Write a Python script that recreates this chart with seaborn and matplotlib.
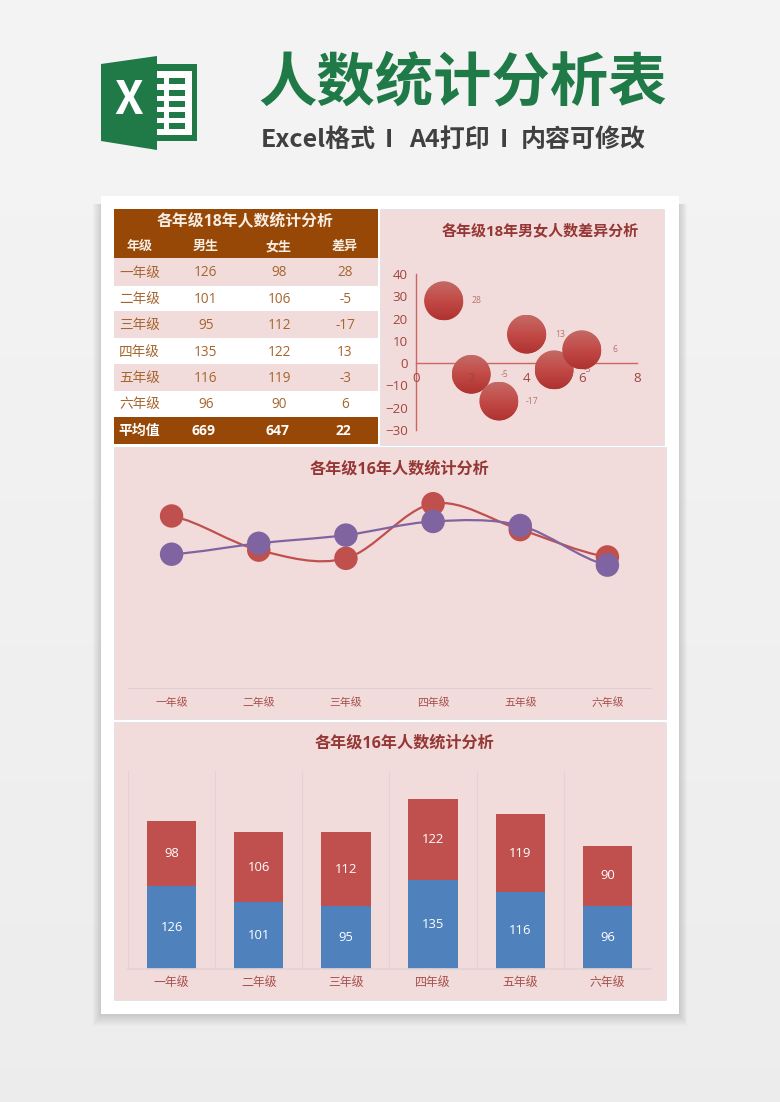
# Student headcount dashboard: table plus three charts on one page
import numpy as np
import pandas as pd
import matplotlib
matplotlib.use('Agg')
import matplotlib.pyplot as plt
import seaborn as sns
from matplotlib.patches import Rectangle, Polygon, Ellipse, PathPatch
from matplotlib.path import Path

# Data
grades = ['一年级', '二年级', '三年级', '四年级', '五年级', '六年级']
boys = [126, 101, 95, 135, 116, 96]
girls = [98, 106, 112, 122, 119, 90]
diffs = [28, -5, -17, 13, -3, 6]
bubble_x = [1, 2, 3, 4, 5, 6]
table_head = ['年级', '男生', '女生', '差异']
total_row = ['平均值', '669', '647', '22']

PINK = '#F2DCDB'
BROWN = '#974706'
RED = '#C0504D'
BLUE = '#4F81BD'
PURPLE = '#8064A2'
TITLE = '#953735'
TICK = '#A5504C'
GREEN = '#1F7A47'
W, H = 780, 1102

sns.set_theme(style='white')
plt.rcParams['font.family'] = ['Open Sans', 'Noto Sans CJK SC', 'DejaVu Sans']
CJK = ['Noto Sans CJK SC', 'DejaVu Sans']

fig = plt.figure(figsize=(W / 100, H / 100), dpi=100)


def axes_px(left, top, right, bottom):
    # axes from pixel edges, origin at the top left of the image
    ax = fig.add_axes([left / W, 1 - bottom / H, (right - left) / W, (bottom - top) / H])
    ax.patch.set_alpha(0)
    return ax


# Step 1: page background in pixel coordinates
bg = axes_px(0, 0, W, H)
bg.set_xlim(0, W)
bg.set_ylim(H, 0)
bg.axis('off')
shade = np.linspace(0.955, 0.925, 200).reshape(-1, 1)
bg.imshow(shade, cmap='gray', vmin=0, vmax=1, extent=(0, W, H, 0), aspect='auto', zorder=0)
# soft shadow, mostly below the white sheet
for grow in range(12, 0, -1):
    bg.add_patch(Rectangle((101 - grow * 0.7, 204), 578 + 1.4 * grow, 810 + grow,
                           color='black', alpha=0.012, lw=0, zorder=1))
bg.add_patch(Rectangle((101, 196), 578, 818, color='white', lw=0, zorder=2))

# panels
for x0, y0, x1, y1 in [(380, 209, 664, 445), (114, 447, 666, 719), (114, 722, 666, 1000)]:
    bg.add_patch(Rectangle((x0, y0), x1 - x0, y1 - y0, fc=PINK, ec='#DDDDE6', lw=0.5, zorder=3))

# Step 2: headline and Excel logo
bg.text(462.5, 83, '人数统计分析表', color=GREEN, fontsize=42, fontweight='bold',
        family=CJK, ha='center', va='center', zorder=5)
for x, part in [(318, 'Excel格式'), (389, 'I'), (449, 'A4打印'), (504, 'I'), (583.5, '内容可修改')]:
    bg.text(x, 140, part, color='#404040', fontsize=18, fontweight='bold',
            family=CJK, ha='center', va='center', zorder=5)

bg.add_patch(Rectangle((157, 64), 40, 77, color=GREEN, lw=0, zorder=4))
bg.add_patch(Rectangle((157, 71), 35, 64, color='white', lw=0, zorder=5))
for y in [78, 90, 101, 112, 123]:
    bg.add_patch(Rectangle((157, y), 6.5, 6, color=GREEN, lw=0, zorder=6))
    bg.add_patch(Rectangle((169, y), 16, 6, color=GREEN, lw=0, zorder=6))
bg.add_patch(Polygon([(101, 64), (157, 56), (157, 150), (101, 141)], color=GREEN, lw=0, zorder=7))
bg.text(129, 101, 'X', color='white', fontsize=33, fontweight='bold', family=CJK,
        ha='center', va='center', zorder=8)

# Step 3: table on the top left
rows = [(258, 286), (286, 311), (311, 338), (338, 364), (364, 391), (391, 417)]
text_y = [273, 299.3, 325.7, 352, 378.3, 404.7]
col_x = [139.5, 205.7, 279, 345]
bg.add_patch(Rectangle((114, 209), 264, 49, color=BROWN, lw=0, zorder=3))
bg.add_patch(Rectangle((114, 417), 264, 27, color=BROWN, lw=0, zorder=3))
bg.text(245.5, 221.5, '各年级18年人数统计分析', color='#F7EDE2', fontsize=11.4, fontweight='bold',
        ha='center', va='center', zorder=5)
for x, label in zip(col_x, table_head):
    bg.text(x, 246.5, label, color='#F7EDE2', fontsize=9.4, fontweight='bold', ha='center', va='center', zorder=5)
for i, (top, bottom) in enumerate(rows):
    if i % 2 == 0:
        bg.add_patch(Rectangle((114, top), 264, bottom - top, color=PINK, lw=0, zorder=3))
    cells = [grades[i], boys[i], girls[i], diffs[i]]
    for x, cell in zip(col_x, cells):
        bg.text(x, text_y[i], str(cell), color='#A5652E', fontsize=9.8, ha='center', va='center', zorder=5)
for x, cell in zip([139.5, 203, 277, 343], total_row):
    bg.text(x, 431, cell, color='white', fontsize=10, fontweight='bold', ha='center', va='center', zorder=5)

# Step 4: bubble chart of boys minus girls
bg.text(540.5, 231, '各年级18年男女人数差异分析', color=TITLE, fontsize=10.8, fontweight='bold',
        ha='center', va='center', zorder=5)
ax1 = axes_px(416, 274, 637, 430)
sns.scatterplot(x=bubble_x, y=diffs, s=730, color=RED, linewidth=0, zorder=2, ax=ax1)
ax1.set_xlim(0, 8)
ax1.set_ylim(-30, 40)
ramp = np.linspace(0, 1, 64).reshape(-1, 1)
cmap = matplotlib.colors.LinearSegmentedColormap.from_list('ball', ['#AE3230', '#C24A46', '#C46A66'])
bw = 39 / (221 / 8)
bh = 39 / (156 / 70)
for x, y in zip(bubble_x, diffs):
    # vertical shading on top of each bubble
    im = ax1.imshow(ramp, cmap=cmap, origin='lower', extent=(x - bw / 2, x + bw / 2, y - bh / 2, y + bh / 2),
                    aspect='auto', zorder=2.1)
    im.set_clip_path(Ellipse((x, y), bw, bh, transform=ax1.transData))
    ax1.annotate(str(y), (x, y), xytext=(24, 0), textcoords='offset points', color='#B5736F',
                 fontsize=6.2, ha='center', va='center', zorder=1.5)
ax1.set_xlim(0, 8)
ax1.set_ylim(-30, 40)
ax1.set_xticks([0, 2, 4, 6, 8])
ax1.set_yticks(range(-30, 50, 10))
sns.despine(ax=ax1)
ax1.spines['bottom'].set_position(('data', 0))
for side in ['left', 'bottom']:
    ax1.spines[side].set_color('#CC6662')
    ax1.spines[side].set_linewidth(1)
    ax1.spines[side].set_zorder(1)
ax1.set_axisbelow(False)
ax1.tick_params(axis='both', length=0, labelsize=9.6, labelcolor='#A0453F', pad=6)
ax1.tick_params(axis='x', pad=6.5)

# Step 5: smooth line chart
bg.text(399, 469.5, '各年级16年人数统计分析', color=TITLE, fontsize=11.6, fontweight='bold',
        ha='center', va='center', zorder=5)
ax2 = axes_px(128, 488, 651, 688)
line_df = pd.DataFrame({'grade': grades * 2, 'count': boys + girls,
                        'group': ['男生'] * 6 + ['女生'] * 6})


def smooth_path(values):
    # Bezier segments through the points, same look as an Excel smoothed line
    verts = [(0, values[0])]
    codes = [Path.MOVETO]
    last = len(values) - 1
    for i in range(last):
        before = values[max(i - 1, 0)]
        after = values[min(i + 2, last)]
        verts.append((i + 1 / 3, values[i] + (values[i + 1] - before) / 6))
        verts.append((i + 2 / 3, values[i + 1] - (after - values[i]) / 6))
        verts.append((i + 1, values[i + 1]))
        codes += [Path.CURVE4] * 3
    return Path(verts, codes)


sns.scatterplot(data=line_df, x='grade', y='count', hue='group', palette={'男生': RED, '女生': PURPLE},
                s=285, linewidth=0, legend=False, zorder=3, ax=ax2)
ax2.add_patch(PathPatch(smooth_path(boys), fc='none', ec=RED, lw=1.6, zorder=2))
ax2.add_patch(PathPatch(smooth_path(girls), fc='none', ec=PURPLE, lw=1.6, zorder=2))
ax2.set_xlim(-0.5, 5.5)
ax2.set_ylim(0, 146.5)
ax2.set_xlabel('')
ax2.set_ylabel('')
ax2.set_yticks([])
sns.despine(ax=ax2, left=True)
ax2.spines['bottom'].set_color('#E0CFD3')
ax2.spines['bottom'].set_linewidth(0.8)
ax2.tick_params(axis='x', length=0, labelsize=7.8, labelcolor=TICK, pad=7)
for label in ax2.get_xticklabels():
    label.set_family(CJK)

# Step 6: stacked bars
bg.text(404.6, 743.5, '各年级16年人数统计分析', color=TITLE, fontsize=11.6, fontweight='bold',
        ha='center', va='center', zorder=5)
ax3 = axes_px(128, 771, 651, 969)
sns.barplot(x=grades, y=boys, color=BLUE, saturation=1, width=0.565, linewidth=0, ax=ax3)
sns.barplot(x=grades, y=girls, bottom=boys, color=RED, saturation=1, width=0.565, linewidth=0, ax=ax3)
ax3.set_xlim(-0.5, 5.5)
ax3.set_ylim(0, 300)
for container in ax3.containers:
    ax3.bar_label(container, label_type='center', color='white', fontsize=9.4)
ax3.set_yticks([])
ax3.set_xticks(np.arange(-0.5, 6, 1), minor=True)
ax3.set_axisbelow(True)
ax3.grid(which='minor', axis='x', color='#E3D3D6', lw=0.8)
sns.despine(ax=ax3, left=True)
ax3.spines['bottom'].set_color('#E3D3D6')
ax3.tick_params(axis='x', which='both', length=0)
ax3.tick_params(axis='x', which='major', labelsize=8.6, labelcolor=TICK, pad=5)
for label in ax3.get_xticklabels():
    label.set_family(CJK)

fig.savefig('out.png', dpi=100)
